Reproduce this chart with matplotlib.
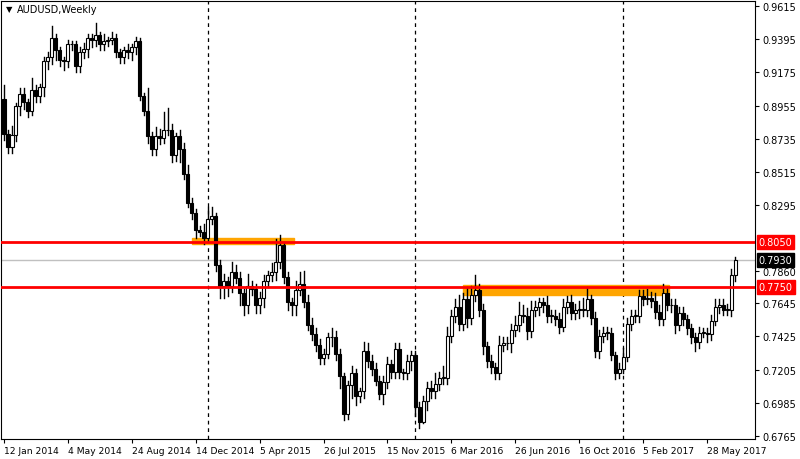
import matplotlib
matplotlib.use("Agg")
import matplotlib.pyplot as plt
from matplotlib.patches import Rectangle

first_open = 0.8998
closes = [0.8766,0.868,0.876,0.895,0.903,0.898,0.892,0.906,0.902,0.908,
0.925,0.928,0.940,0.932,0.926,0.925,0.936,0.936,0.922,0.931,
0.933,0.940,0.939,0.942,0.936,0.938,0.939,0.940,0.931,0.928,
0.932,0.931,0.934,0.938,0.902,0.892,0.875,0.867,0.875,0.874,
0.879,0.879,0.863,0.875,0.867,0.850,0.831,0.824,0.813,0.812,
0.808,0.820,0.822,0.790,0.776,0.779,0.776,0.785,0.781,0.771,
0.763,0.776,0.774,0.763,0.768,0.779,0.783,0.785,0.792,0.803,
0.782,0.765,0.763,0.773,0.777,0.765,0.750,0.744,0.737,0.728,
0.731,0.742,0.742,0.731,0.716,0.691,0.710,0.718,0.703,0.706,
0.733,0.726,0.721,0.713,0.704,0.712,0.724,0.719,0.734,0.719,
0.718,0.726,0.730,0.696,0.686,0.700,0.708,0.706,0.711,0.715,
0.715,0.743,0.756,0.762,0.751,0.767,0.755,0.770,0.773,0.760,
0.736,0.726,0.722,0.718,0.737,0.738,0.738,0.747,0.750,0.757,
0.756,0.746,0.760,0.762,0.765,0.763,0.756,0.756,0.754,0.749,
0.762,0.765,0.758,0.760,0.760,0.760,0.767,0.755,0.733,0.743,
0.745,0.745,0.730,0.718,0.721,0.729,0.751,0.756,0.756,0.769,
0.767,0.768,0.766,0.759,0.754,0.771,0.763,0.763,0.750,0.758,
0.754,0.748,0.742,0.739,0.745,0.745,0.744,0.753,0.762,0.763,
0.760,0.760,0.783,0.793]
wick_up = [0.009,0.003,0.006,0.002,0.004,0.004,0.002,0.008,0.003,0.002,
0.003,0.003,0.008,0.003,0.002,0.002,0.003,0.002,0.002,0.003,
0.004,0.003,0.003,0.008,0.002,0.005,0.002,0.004,0.003,0.002,
0.002,0.004,0.002,0.003,0.002,0.002,0.015,0.003,0.006,0.005,
0.012,0.015,0.004,0.002,0.004,0.004,0.006,0.003,0.003,0.003,
0.005,0.008,0.006,0.002,0.003,0.005,0.003,0.007,0.005,0.004,
0.003,0.008,0.003,0.003,0.004,0.004,0.003,0.006,0.015,0.007,
0.002,0.003,0.003,0.006,0.008,0.009,0.005,0.005,0.004,0.004,
0.003,0.003,0.006,0.004,0.003,0.002,0.003,0.005,0.003,0.002,
0.006,0.005,0.004,0.004,0.003,0.004,0.005,0.003,0.004,0.004,
0.002,0.004,0.003,0.003,0.003,0.003,0.004,0.005,0.007,0.004,
0.008,0.006,0.004,0.005,0.008,0.004,0.008,0.006,0.010,0.004,
0.004,0.003,0.004,0.003,0.006,0.004,0.004,0.004,0.006,0.008,
0.006,0.005,0.006,0.004,0.003,0.003,0.006,0.004,0.004,0.004,
0.005,0.004,0.005,0.004,0.006,0.008,0.008,0.003,0.004,0.004,
0.004,0.004,0.003,0.002,0.004,0.006,0.004,0.004,0.004,0.004,
0.004,0.006,0.004,0.005,0.004,0.006,0.004,0.004,0.004,0.004,
0.004,0.003,0.003,0.003,0.004,0.003,0.003,0.004,0.005,0.004,
0.004,0.004,0.004,0.002]
wick_dn = [0.004,0.004,0.004,0.004,0.006,0.005,0.004,0.003,0.004,0.004,
0.006,0.005,0.005,0.006,0.004,0.006,0.004,0.004,0.004,0.004,
0.004,0.005,0.005,0.004,0.004,0.004,0.003,0.003,0.003,0.004,
0.004,0.004,0.005,0.004,0.003,0.003,0.004,0.004,0.004,0.004,
0.003,0.003,0.005,0.004,0.009,0.003,0.003,0.004,0.005,0.003,
0.004,0.003,0.003,0.004,0.008,0.008,0.007,0.004,0.003,0.008,
0.006,0.005,0.004,0.005,0.005,0.006,0.004,0.004,0.005,0.004,
0.004,0.005,0.006,0.006,0.003,0.003,0.003,0.004,0.004,0.004,
0.004,0.003,0.006,0.004,0.008,0.004,0.003,0.008,0.006,0.004,
0.004,0.004,0.004,0.003,0.003,0.006,0.004,0.004,0.004,0.004,
0.004,0.004,0.006,0.006,0.004,0.001,0.006,0.004,0.004,0.004,
0.004,0.004,0.004,0.004,0.004,0.004,0.006,0.004,0.004,0.004,
0.005,0.004,0.004,0.004,0.004,0.004,0.004,0.006,0.004,0.004,
0.004,0.005,0.004,0.004,0.005,0.004,0.004,0.004,0.004,0.004,
0.003,0.004,0.004,0.004,0.005,0.004,0.004,0.004,0.004,0.005,
0.004,0.004,0.003,0.004,0.003,0.003,0.003,0.004,0.004,0.004,
0.004,0.003,0.004,0.004,0.004,0.004,0.003,0.004,0.005,0.003,
0.004,0.004,0.004,0.006,0.004,0.003,0.005,0.004,0.003,0.004,
0.003,0.003,0.004,0.004]

date_labels = ["12 Jan 2014","4 May 2014","24 Aug 2014","14 Dec 2014","5 Apr 2015",
               "26 Jul 2015","15 Nov 2015","6 Mar 2016","26 Jun 2016","16 Oct 2016",
               "5 Feb 2017","28 May 2017"]
date_idx = [0,16,32,48,64,80,96,112,128,144,160,176]
price_ticks = [0.9615,0.9395,0.9175,0.8955,0.8735,0.8515,0.8295,0.7860,0.7645,0.7425,0.7205,0.6985,0.6765]
dashed_idx = [51,103,155]
levels = [0.8050,0.7750]
current = 0.7930
zones = [(47,72.5,0.8038,0.8077),(115,166.5,0.7700,0.7765)]

W,H = 800,460
fig = plt.figure(figsize=(8,4.6),dpi=100)
ax = fig.add_axes([1/W, 20/H, 754/W, 438/H])
ax.set_xlim(-0.75,188)
ax.set_ylim(0.6745,0.9648)

opens = [first_open]+closes[:-1]
for i,(o,c) in enumerate(zip(opens,closes)):
    hi = max(o,c)+wick_up[i]; lo = min(o,c)-wick_dn[i]
    ax.plot([i,i],[lo,hi],color='black',lw=1,zorder=3)
    b = min(o,c); h = max(abs(c-o),0.0004)
    ax.add_patch(Rectangle((i-0.38,b),0.76,h,facecolor='white' if c>=o else 'black',
                           edgecolor='black',lw=0.8,zorder=4))

for x0,x1,y0,y1 in zones:
    ax.add_patch(Rectangle((x0,y0),x1-x0,y1-y0,color='#ffa500',zorder=2))
for lv in levels:
    ax.axhline(lv,color='#ff0000',lw=2,zorder=5)
ax.axhline(current,color='#c0c0c0',lw=1,zorder=1)
for d in dashed_idx:
    ax.axvline(d,color='black',lw=0.9,ls=(0,(3,3)),zorder=1)

ax.yaxis.tick_right()
ax.set_yticks(price_ticks)
ax.set_yticklabels([f"{p:.4f}" for p in price_ticks],fontsize=7)
ax.set_xticks(date_idx)
ax.set_xticklabels(date_labels,fontsize=6.6,ha='left')
ax.tick_params(axis='x',length=3,pad=2)
ax.tick_params(axis='y',length=3,pad=2)
for s in ax.spines.values():
    s.set_linewidth(0.8)

for lv,col in [(0.8050,'#ff0000'),(0.7750,'#ff0000'),(0.7930,'black')]:
    ax.text(1.005,lv,f"{lv:.4f}",transform=ax.get_yaxis_transform(),fontsize=7,color='white',
            va='center',ha='left',bbox=dict(boxstyle='square,pad=0.2',fc=col,ec=col),zorder=10,clip_on=False)

fig.text(6/W,1-10/H,"\u25BC",fontsize=6,va='center')
fig.text(17/W,1-10/H,"AUDUSD,Weekly",fontsize=7,va='center')
fig.savefig("out.png",dpi=100)
